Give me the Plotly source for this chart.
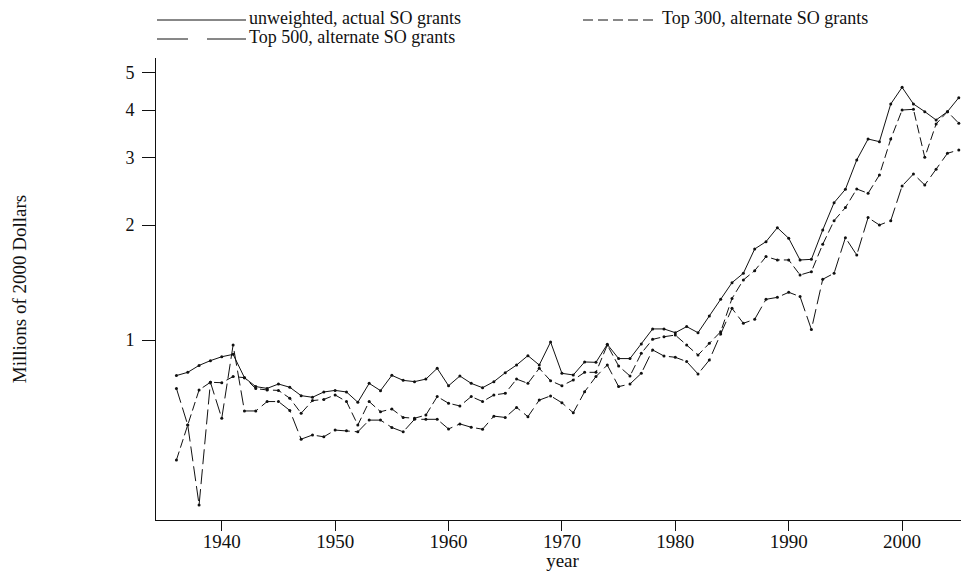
import plotly.graph_objects as go

years = list(range(1936, 2006))

unweighted_actual = [
    0.807, 0.823, 0.858, 0.883, 0.904, 0.917, 0.797, 0.755, 0.747, 0.767,
    0.752, 0.715, 0.708, 0.731, 0.738, 0.731, 0.687, 0.770, 0.737, 0.808,
    0.784, 0.778, 0.790, 0.843, 0.759, 0.805, 0.770, 0.750, 0.778, 0.821,
    0.860, 0.910, 0.860, 0.988, 0.818, 0.810, 0.876, 0.874, 0.974, 0.894,
    0.894, 0.976, 1.069, 1.069, 1.045, 1.084, 1.045, 1.156, 1.278, 1.413,
    1.495, 1.731, 1.809, 1.968, 1.846, 1.620, 1.626, 1.941, 2.288, 2.480,
    2.960, 3.358, 3.305, 4.148, 4.586, 4.148, 3.961, 3.766, 3.961, 4.309,
]

top300_alternate = [
    0.485, 0.599, 0.740, 0.775, 0.773, 0.802, 0.797, 0.746, 0.740, 0.738,
    0.704, 0.643, 0.694, 0.699, 0.718, 0.690, 0.599, 0.690, 0.649, 0.660,
    0.627, 0.624, 0.636, 0.711, 0.683, 0.672, 0.711, 0.690, 0.718, 0.725,
    0.790, 0.770, 0.843, 0.782, 0.759, 0.786, 0.823, 0.823, 0.970, 0.855,
    0.805, 0.923, 1.004, 1.020, 1.030, 0.970, 0.913, 0.980, 1.051, 1.285,
    1.436, 1.519, 1.653, 1.620, 1.620, 1.480, 1.510, 1.780, 2.053, 2.221,
    2.485, 2.421, 2.704, 3.358, 4.000, 4.016, 3.007, 3.677, 3.961, 3.692,
]

top500_alternate = [
    0.747, 0.599, 0.370, 0.775, 0.624, 0.970, 0.652, 0.652, 0.690, 0.690,
    0.654, 0.550, 0.564, 0.558, 0.581, 0.579, 0.575, 0.617, 0.617, 0.590,
    0.575, 0.620, 0.620, 0.620, 0.585, 0.603, 0.591, 0.584, 0.632, 0.627,
    0.666, 0.630, 0.696, 0.714, 0.685, 0.645, 0.732, 0.802, 0.860, 0.755,
    0.767, 0.818, 0.942, 0.908, 0.901, 0.878, 0.815, 0.886, 1.037, 1.210,
    1.106, 1.133, 1.278, 1.293, 1.333, 1.299, 1.066, 1.442, 1.495, 1.853,
    1.669, 2.091, 2.000, 2.053, 2.530, 2.720, 2.545, 2.798, 3.081, 3.144,
]

series_names = [
    "unweighted, actual SO grants",
    "Top 300, alternate SO grants",
    "Top 500, alternate SO grants",
]

x_ticks = [1940, 1950, 1960, 1970, 1980, 1990, 2000]
y_ticks = [1, 2, 3, 4, 5]
y_tick_labels = ["1", "2", "3", "4", "5"]

FONT = "Liberation Serif"
INK = "#111111"

# The page body has an 8px default margin: size the figure so it fills the window.
OFF = 8
W, H = 969 - OFF, 571 - OFF
ML, MR, MT, MB = 156 - OFF, 0, 58 - OFF, 571 - 520
PW = W - ML - MR
PH = H - MT - MB


def px_x(page_x):
    return (page_x - OFF - ML) / PW


def px_y(page_y):
    return (H - MB - (page_y - OFF)) / PH


fig = go.Figure()

dashes = ["solid", "9px,4px", "15px,5px"]
for name, vals, dash in zip(series_names,
                            [unweighted_actual, top300_alternate, top500_alternate],
                            dashes):
    fig.add_trace(go.Scatter(
        x=years, y=vals, name=name, mode="lines+markers",
        line=dict(color=INK, width=1, dash=dash),
        marker=dict(color=INK, size=3, symbol="circle"),
        showlegend=False,
    ))

# Manual legend with the long sample lines of the reference
ROW1, ROW2 = 20, 39
legend_shapes = [
    dict(x0=157, x1=246, y=ROW1, dash="solid"),
    dict(x0=583, x1=658, y=ROW1, dash="10px,5px"),
    dict(x0=157, x1=188, y=ROW2, dash="solid"),
    dict(x0=207, x1=246, y=ROW2, dash="solid"),
]
for s in legend_shapes:
    fig.add_shape(type="line", xref="paper", yref="paper",
                  x0=px_x(s["x0"]), x1=px_x(s["x1"]),
                  y0=px_y(s["y"]), y1=px_y(s["y"]),
                  line=dict(color=INK, width=1, dash=s["dash"]))

legend_text = [
    (series_names[0], 248, ROW1 - 1.5),
    (series_names[1], 661, ROW1 - 1.5),
    (series_names[2], 248, ROW2 - 1.5),
]
for txt, x, y in legend_text:
    fig.add_annotation(text=txt, xref="paper", yref="paper",
                       x=px_x(x), y=px_y(y), xanchor="left", yanchor="middle",
                       showarrow=False, borderpad=0,
                       font=dict(family=FONT, size=18, color=INK))

fig.update_layout(
    width=W, height=H,
    margin=dict(l=ML, r=MR, t=MT, b=MB, pad=0),
    paper_bgcolor="white", plot_bgcolor="white",
    font=dict(family=FONT, color=INK),
    showlegend=False,
    xaxis=dict(
        range=[1934.2, 2005.9],
        tickvals=x_ticks,
        ticks="outside", ticklen=10, tickwidth=1, tickcolor=INK,
        ticklabelstandoff=-6,
        showline=True, linecolor=INK, linewidth=1,
        showgrid=False, zeroline=False,
        tickfont=dict(family=FONT, size=19, color=INK),
        title=dict(text="year", font=dict(family=FONT, size=19, color=INK), standoff=6),
    ),
    yaxis=dict(
        type="log",
        range=[-0.4712, 0.7382],
        tickvals=y_ticks, ticktext=y_tick_labels,
        ticks="outside", ticklen=13, tickwidth=1, tickcolor=INK,
        ticklabelstandoff=4,
        showline=True, linecolor=INK, linewidth=1,
        showgrid=False, zeroline=False,
        tickfont=dict(family=FONT, size=18, color=INK),
        title=dict(text="Millions of 2000 Dollars",
                   font=dict(family=FONT, size=19, color=INK), standoff=93),
    ),
)

fig.write_html("out.html")
